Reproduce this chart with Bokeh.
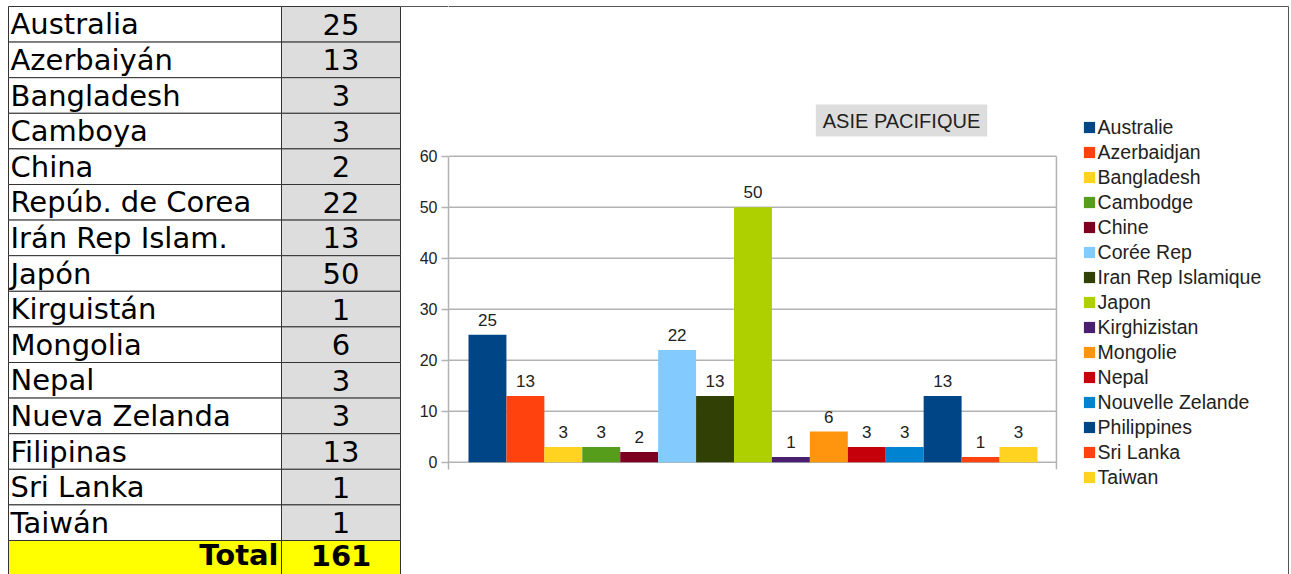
from bokeh.plotting import figure
from bokeh.models import ColumnDataSource, Range1d, FixedTicker, Label, Legend, LegendItem
from bokeh.layouts import row
from bokeh.core.properties import value
from bokeh.embed import file_html
from bokeh.resources import INLINE

# ---- table data (Spanish) ----
table_names = ["Australia", "Azerbaiyán", "Bangladesh", "Camboya", "China",
               "Repúb. de Corea", "Irán Rep Islam.", "Japón", "Kirguistán",
               "Mongolia", "Nepal", "Nueva Zelanda", "Filipinas", "Sri Lanka", "Taiwán"]
table_values = [25, 13, 3, 3, 2, 22, 13, 50, 1, 6, 3, 3, 13, 1, 1]
total_label = "Total"
total_value = 161

# ---- chart data (French) ----
chart_title = "ASIE PACIFIQUE"
chart_names = ["Australie", "Azerbaidjan", "Bangladesh", "Cambodge", "Chine",
               "Corée Rep", "Iran Rep Islamique", "Japon", "Kirghizistan",
               "Mongolie", "Nepal", "Nouvelle Zelande", "Philippines", "Sri Lanka", "Taiwan"]
chart_values = [25, 13, 3, 3, 2, 22, 13, 50, 1, 6, 3, 3, 13, 1, 3]
chart_colors = ["#004586", "#FF420E", "#FFD320", "#579D1C", "#7E0021",
                "#83CAFF", "#314004", "#AECF00", "#4B1F6F", "#FF950E",
                "#C5000B", "#0084D1", "#004586", "#FF420E", "#FFD320"]
y_ticks = [0, 10, 20, 30, 40, 50, 60]

H = 574
# ================= TABLE =================
ROW_H = 35.6
T_W = 401
NAME_R = 273
VAL_R = 392
LINE = "#333333"
top_off = 6 / ROW_H

t = figure(width=T_W, height=H, x_range=Range1d(-8, 393),
           y_range=Range1d(H / ROW_H - top_off, -top_off),
           toolbar_location=None, output_backend="svg", min_border=0)
t.axis.visible = False
t.grid.visible = False
t.outline_line_color = None
t.background_fill_color = "white"
t.border_fill_color = "white"

n = len(table_names)
rows_top = [i for i in range(n)]
rows_bot = [i + 1 for i in range(n)]
rows_mid = [i + 0.5 for i in range(n)]

t.quad(left=0, right=NAME_R, top=rows_top, bottom=rows_bot,
       fill_color="white", line_color=LINE, line_width=1)
t.quad(left=NAME_R, right=VAL_R, top=rows_top, bottom=rows_bot,
       fill_color="#DDDDDD", line_color=LINE, line_width=1)
t.quad(left=[0, NAME_R], right=[NAME_R, VAL_R], top=[n, n], bottom=[n + 1, n + 1],
       fill_color="#FFFF00", line_color=LINE, line_width=1)

t.text(x=[2] * n, y=rows_mid, text=table_names, text_baseline="middle",
       text_align="left", text_font=value("DejaVu Sans"), text_font_size="29px",
       text_color="black")
t.text(x=[(NAME_R + VAL_R) / 2] * n, y=rows_mid, text=[str(v) for v in table_values],
       text_baseline="middle", text_align="center", text_font=value("DejaVu Sans"),
       text_font_size="29px", text_color="black")
t.text(x=[NAME_R - 3], y=[n + 0.42], text=[total_label], text_baseline="middle",
       text_align="right", text_font=value("DejaVu Sans"), text_font_size="29px",
       text_font_style="bold", text_color="black")
t.text(x=[(NAME_R + VAL_R) / 2], y=[n + 0.42], text=[str(total_value)], text_baseline="middle",
       text_align="center", text_font=value("DejaVu Sans"), text_font_size="29px",
       text_font_style="bold", text_color="black")

# ================= CHART =================
C_W = 889
LEFT_B = 47
PX_X = 37.93          # pixels per category
PX_Y = 5.1            # pixels per unit
ZERO_Y = 461.7        # screen y of value 0
X0 = -0.5 - 20 / PX_X
X1 = X0 + (C_W - LEFT_B) / PX_X
Y0 = -(H - ZERO_Y) / PX_Y
Y1 = ZERO_Y / PX_Y
PLOT_END = 14.5 + 19 / PX_X
TICK_BELOW = -7 / PX_Y
BOX_TOP = (ZERO_Y - 6) / PX_Y
BOX_RIGHT = X0 + (1288 - 448) / PX_X

xs = list(range(len(chart_values)))
src = ColumnDataSource(dict(x=xs, v=chart_values, name=chart_names, color=chart_colors,
                            lab=[str(v) for v in chart_values]))

c = figure(width=C_W, height=H, x_range=Range1d(X0, X1), y_range=Range1d(Y0, Y1),
           toolbar_location=None, output_backend="svg", x_axis_location=None,
           min_border_left=LEFT_B, min_border_right=0, min_border_top=0, min_border_bottom=0)
c.background_fill_color = "white"
c.border_fill_color = None
# box top border continued across the axis margin (behind a transparent border area)
c.styles = {"background": "linear-gradient(#555555, #555555) 0px 6px / %dpx 1px no-repeat, white" % LEFT_B}
c.outline_line_color = None
c.xgrid.visible = False
c.ygrid.visible = False

GRID = "#B3B3B3"
c.segment(x0=[X0] * len(y_ticks), x1=[PLOT_END] * len(y_ticks), y0=y_ticks, y1=y_ticks,
          line_color=GRID, line_width=1.5)
c.segment(x0=[PLOT_END], x1=[PLOT_END], y0=[TICK_BELOW], y1=[y_ticks[-1]],
          line_color=GRID, line_width=1.5)
c.segment(x0=[X0, BOX_RIGHT], x1=[BOX_RIGHT, BOX_RIGHT], y0=[BOX_TOP, BOX_TOP], y1=[BOX_TOP, Y0],
          line_color="#555555", line_width=1)

c.yaxis.ticker = FixedTicker(ticks=y_ticks)
c.yaxis.bounds = (TICK_BELOW, y_ticks[-1])
c.yaxis.axis_line_color = GRID
c.yaxis.axis_line_width = 1.5
c.yaxis.major_tick_line_color = GRID
c.yaxis.major_tick_line_width = 1.5
c.yaxis.major_tick_in = 0
c.yaxis.major_tick_out = 7
c.yaxis.minor_tick_line_color = None
c.yaxis.major_label_standoff = 4
c.yaxis.major_label_text_font = "Liberation Sans"
c.yaxis.major_label_text_font_size = "16px"
c.yaxis.major_label_text_color = "#222222"

bars = c.vbar(x="x", top="v", width=1.0, fill_color="color", line_color=None, source=src)
c.text(x="x", y="v", text="lab", source=src, y_offset=-9, text_baseline="bottom",
       text_align="center", text_font=value("Liberation Sans"), text_font_size="17px",
       text_color="#222222")

legend = Legend(items=[LegendItem(label=nm, renderers=[bars], index=i)
                       for i, nm in enumerate(chart_names)],
                location=(1083 - 448 - 1.4, H - 489.5), padding=0, margin=0, spacing=0,
                glyph_width=14, glyph_height=14, label_height=25, label_standoff=2,
                label_text_font="Liberation Sans", label_text_font_size="19.5px",
                label_text_color="#222222", border_line_color=None,
                background_fill_alpha=0)
c.add_layout(legend)

title = Label(x=X0 + (901 - 448) / PX_X, y=(ZERO_Y - 120) / PX_Y, text=chart_title,
              text_align="center", text_baseline="middle",
              text_font="Liberation Sans", text_font_size="20px", text_color="#222222",
              background_fill_color="#DDDDDD", padding=(7, 5))
c.add_layout(title)

layout = row(t, c, spacing=0)
open("out.html", "w").write(file_html(layout, INLINE))
